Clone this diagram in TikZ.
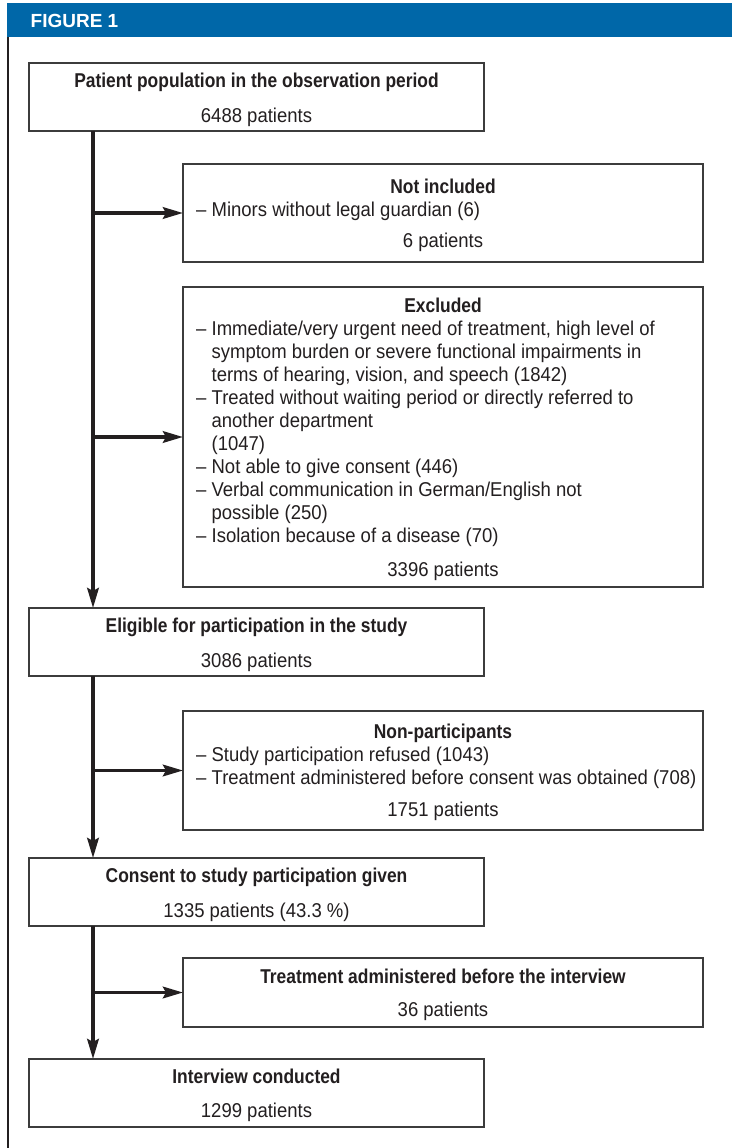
\documentclass[tikz,border=0pt]{standalone}
\usepackage{fontspec}
\setmainfont{Liberation Sans}[FakeStretch=0.925]
\newfontfamily\titlefont{Liberation Sans}[FakeStretch=0.87]
\newfontfamily\headfont{Liberation Sans}
\usetikzlibrary{arrows.meta}
\definecolor{hdrblue}{RGB}{0,103,168}
\definecolor{ink}{RGB}{35,31,32}
\definecolor{boxline}{RGB}{60,60,60}
\begin{document}
\begin{tikzpicture}[x=1pt,y=-1pt,
  box/.style={draw=boxline, line width=1.5pt, anchor=north west, inner sep=0pt, outer sep=0pt},
  ttl/.style={anchor=base, inner sep=0pt, text=ink, font=\titlefont\bfseries\fontsize{20}{23}\selectfont},
  txt/.style={anchor=base, inner sep=0pt, text=ink, font=\fontsize{20}{23}\selectfont},
  itm/.style={anchor=base west, inner sep=0pt, text=ink, font=\fontsize{20}{23}\selectfont},
  flow/.style={draw=ink, line width=3.6pt},
  arr/.style={flow, -{Stealth[length=20pt,width=11.5pt,inset=3pt]}},
  lbox/.style={box, minimum width=455pt, minimum height=68pt},
  sbox/.style={box, minimum width=520pt}
]
\useasboundingbox (0,0) rectangle (732,1148);
\fill[white] (0,0) rectangle (732,1148);
% header
\fill[hdrblue] (7,3) rectangle (732,37);
\node[anchor=base west, inner sep=0pt, text=white, font=\headfont\bfseries\fontsize{19}{22}\selectfont] (hdr) at (30.5,27.3) {FIGURE 1};
\draw[ink, line width=2pt] (8,37) -- (8,1148);

% boxes
\node[lbox] (b1) at (29,63) {};
\node[sbox, minimum height=98pt] (ni) at (183,164) {};
\node[sbox, minimum height=300pt] (ex) at (183,287) {};
\node[lbox] (el) at (29,608) {};
\node[sbox, minimum height=119pt] (np) at (183,711) {};
\node[lbox] (co) at (29,858) {};
\node[sbox, minimum height=69pt] (tb) at (183,958) {};
\node[lbox] (iv) at (29,1059) {};

% texts box 1
\node[ttl] (b1t) at (256.5,87.3) {Patient population in the observation period};
\node[txt] (b1n) at (256.5,122.5) {6488 patients};
% not included
\node[ttl] (nit) at (443,193) {Not included};
\node[itm] (ni1) at (196,216.5) {– Minors without legal guardian (6)};
\node[txt] (nin) at (443,247.5) {6 patients};
% excluded
\node[ttl] (ext) at (443,312) {Excluded};
\node[itm] (ex1) at (196,335.7) {– Immediate/very urgent need of treatment, high level of};
\node[itm] (ex2) at (196,358.7) {\hphantom{– }symptom burden or severe functional impairments in};
\node[itm] (ex3) at (196,381.7) {\hphantom{– }terms of hearing, vision, and speech (1842)};
\node[itm] (ex4) at (196,404.7) {– Treated without waiting period or directly referred to};
\node[itm] (ex5) at (196,427.7) {\hphantom{– }another department};
\node[itm] (ex6) at (196,450.7) {\hphantom{– }(1047)};
\node[itm] (ex7) at (196,473.7) {– Not able to give consent (446)};
\node[itm] (ex8) at (196,496.7) {– Verbal communication in German/English not};
\node[itm] (ex9) at (196,519.7) {\hphantom{– }possible (250)};
\node[itm] (ex10) at (196,542.7) {– Isolation because of a disease (70)};
\node[txt] (exn) at (443,576) {3396 patients};
% eligible
\node[ttl] (elt) at (256.5,632) {Eligible for participation in the study};
\node[txt] (eln) at (256.5,667.5) {3086 patients};
% non-participants
\node[ttl] (npt) at (443,738) {Non-participants};
\node[itm] (np1) at (196,761.5) {– Study participation refused (1043)};
\node[itm] (np2) at (196,784.5) {– Treatment administered before consent was obtained (708)};
\node[txt] (npn) at (443,816.5) {1751 patients};
% consent
\node[ttl] (cot) at (256.5,882) {Consent to study participation given};
\node[txt] (con) at (256.5,917.5) {1335 patients (43.3 \%)};
% treatment before interview
\node[ttl] (tbt) at (443,983) {Treatment administered before the interview};
\node[txt] (tbn) at (443,1016.5) {36 patients};
% interview
\node[ttl] (ivt) at (256.5,1083) {Interview conducted};
\node[txt] (ivn) at (256.5,1117) {1299 patients};

% connectors
\coordinate (vx) at (93,0);
\draw[arr] (b1.south -| vx) -- (el.north -| vx);
\draw[arr] (el.south -| vx) -- (co.north -| vx);
\draw[arr] (co.south -| vx) -- (iv.north -| vx);
\draw[arr] (ni.west -| vx) -- (ni.west);
\draw[arr] (ex.west -| vx) -- (ex.west);
\draw[arr] (np.west -| vx) -- (np.west);
\draw[arr] (tb.west -| vx) -- (tb.west);
\end{tikzpicture}
\end{document}
